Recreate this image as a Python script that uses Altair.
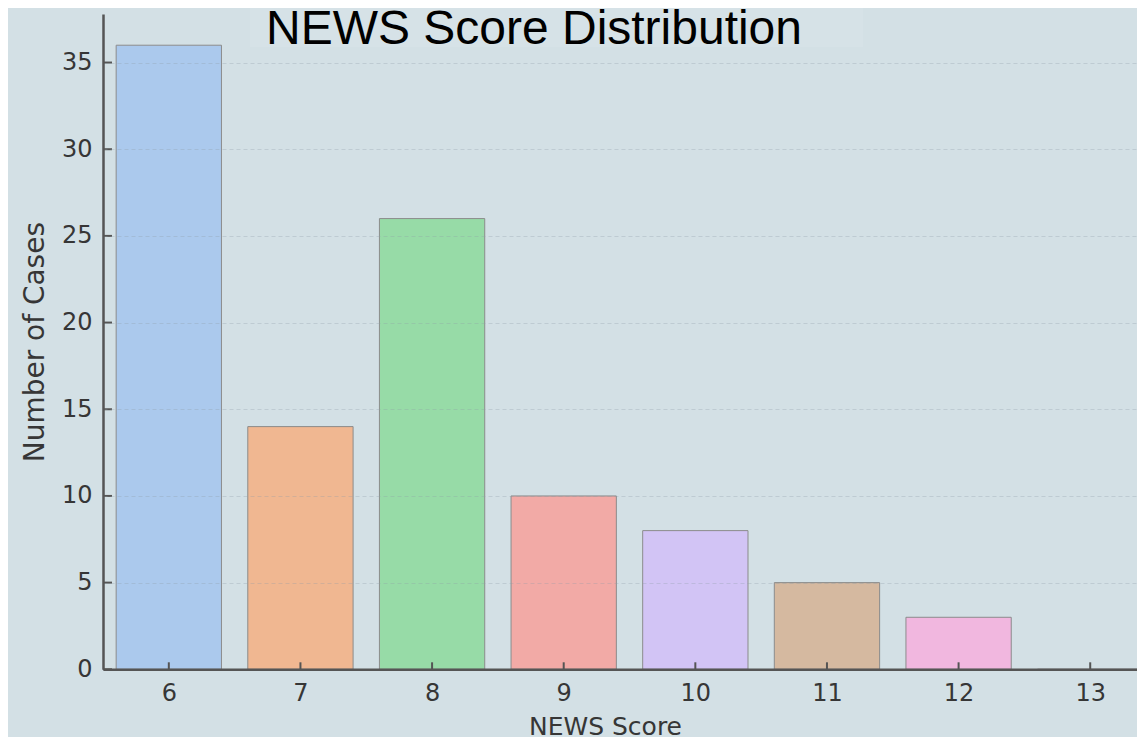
import altair as alt
import pandas as pd

# ---- data ----
scores = [6, 7, 8, 9, 10, 11, 12, 13]
counts = [36, 14, 26, 10, 8, 5, 3, 0]
bar_colors = ["#abc9ed", "#f0b791", "#97dba7", "#f2aaa6", "#d2c4f5", "#d5b9a0", "#f1b7df", "#c8c8c8"]
y_ticks = [0, 5, 10, 15, 20, 25, 30, 35]
title_text = "NEWS Score Distribution"
x_title = "NEWS Score"
y_title = "Number of Cases"

W = 1034
H = 655.3
X_DOMAIN = [5.5, 5.5 + W / 131.63]
Y_DOMAIN = [0, 37.8]

df = pd.DataFrame({"score": scores, "count": counts})
yt_df = pd.DataFrame({"count": y_ticks})
title_df = pd.DataFrame({"t": [title_text]})

FONT = "DejaVu Sans"
AX_COL = "#555555"
LAB_COL = "#363636"

x_scale = alt.Scale(domain=X_DOMAIN, nice=False, zero=False)
y_scale = alt.Scale(domain=Y_DOMAIN, nice=False)

x_axis = alt.Axis(
    values=scores, format="d", grid=False, ticks=False,
    labelFont=FONT, labelFontSize=24, labelColor=LAB_COL, labelPadding=12,
    domainColor=AX_COL, domainWidth=2.5,
    titleFont=FONT, titleFontSize=25, titleFontWeight="normal", titleColor=LAB_COL,
    titleX=502, titleY=65, titleBaseline="alphabetic", titleAlign="center",
    zindex=1,
)
y_axis = alt.Axis(
    values=y_ticks, format="d", grid=True, gridDash=[4, 3], gridColor="#8f9ca6",
    gridOpacity=0.3, gridWidth=1.2, ticks=False,
    labelFont=FONT, labelFontSize=24, labelColor=LAB_COL, labelPadding=11,
    domainColor=AX_COL, domainWidth=2.5,
    titleFont=FONT, titleFontSize=28, titleFontWeight="normal", titleColor=LAB_COL,
    titleX=-60, titleY=H / 2, titleBaseline="alphabetic", titleAlign="center",
    zindex=1,
)

box = alt.Chart(title_df).mark_rect(color="#d6e2e7").encode(
    x=alt.value(147), x2=alt.value(760), y=alt.value(-6), y2=alt.value(33)
)

bars = alt.Chart(df).transform_calculate(
    x0="datum.score - 0.4", x1="datum.score + 0.4"
).mark_bar(stroke="#8c8c8c", strokeWidth=1).encode(
    x=alt.X("x0:Q", scale=x_scale, axis=x_axis, title=x_title),
    x2="x1:Q",
    y=alt.Y("count:Q", scale=y_scale, axis=y_axis, title=y_title),
    y2=alt.datum(0),
    color=alt.Color("score:N", scale=alt.Scale(domain=scores, range=bar_colors), legend=None),
)

xticks = alt.Chart(df).transform_calculate(x0="datum.score").mark_rule(
    color=AX_COL, strokeWidth=2
).encode(
    x=alt.X("x0:Q", scale=x_scale, axis=x_axis, title=x_title),
    y=alt.value(H - 7), y2=alt.value(H),
)

yticks = alt.Chart(yt_df).mark_rule(color=AX_COL, strokeWidth=2).encode(
    y=alt.Y("count:Q", scale=y_scale, axis=y_axis, title=y_title),
    x=alt.value(0), x2=alt.value(9),
)

title = alt.Chart(title_df).mark_text(
    font="Liberation Sans", fontSize=48, align="center", baseline="alphabetic", color="black"
).encode(text="t:N", x=alt.value(431), y=alt.value(30))

chart = alt.layer(box, bars, xticks, yticks, title).properties(
    width=W, height=H,
    autosize=alt.AutoSizeParams(type="none"),
    padding={"left": 95, "top": 6, "right": 0, "bottom": 68},
    background="#d3e0e5",
).configure_view(stroke=None)

chart.save("out.html", embed_options={"renderer": "svg", "actions": False})
